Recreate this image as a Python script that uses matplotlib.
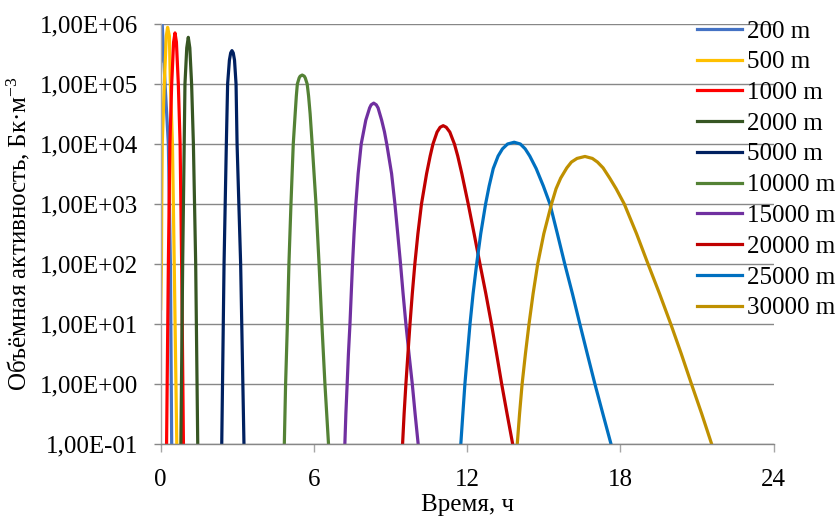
import matplotlib

matplotlib.use("Agg")
import matplotlib.pyplot as plt
from matplotlib.ticker import FixedLocator, FuncFormatter, NullLocator

# values (time in h, activity in Bq/m3)
t_200 = [0.00, 0.06, 0.17, 0.30, 0.38, 0.43]
c_200 = [2.4e5, 9.7e5, 1e5, 1e4, 1e2, 1e-1]

t_500 = [0.00, 0.03, 0.04, 0.06, 0.14, 0.22, 0.27, 0.34, 0.38, 0.46, 0.53, 0.63]
c_500 = [18, 1e2, 1e3, 1e4, 1e5, 6.3e5, 8.8e5, 6.3e5, 1e5, 1e4, 1e2, 1e-1]

t_1000 = [0.23, 0.30, 0.36, 0.43, 0.505, 0.56, 0.615, 0.69, 0.76, 0.82, 0.89]
c_1000 = [1e-1, 1e2, 1e4, 1e5, 5e5, 7.1e5, 5e5, 1e5, 1e4, 1e2, 1e-1]

t_2000 = [0.79, 0.86, 0.92, 0.95, 1.02, 1.08, 1.14, 1.21, 1.28, 1.37, 1.45]
c_2000 = [1e-1, 1e2, 1e4, 1e5, 4e5, 6.0e5, 4e5, 1e5, 1e4, 1e2, 1e-1]

t_5000 = [2.39, 2.48, 2.57, 2.62, 2.69, 2.74, 2.79, 2.84, 2.89, 2.95, 2.99,
          3.13, 3.26]
c_5000 = [1e-1, 1e2, 1e4, 1e5, 2.5e5, 3.3e5, 3.6e5, 3.3e5, 2.5e5, 1e5, 1e4,
          1e2, 1e-1]

t_10000 = [4.84, 4.89, 4.96, 5.02, 5.10, 5.19, 5.265, 5.31, 5.35, 5.42, 5.46,
           5.54, 5.62, 5.66, 5.735, 5.79, 5.85, 5.93, 6.08, 6.20, 6.31, 6.43,
           6.57]
c_10000 = [1e-1, 1e0, 1e1, 1e2, 1e3, 1e4, 3.2e4, 6.3e4, 1e5, 1.26e5, 1.35e5,
           1.41e5, 1.35e5, 1.26e5, 1e5, 6.3e4, 3.2e4, 1e4, 1e3, 1e2, 1e1, 1e0,
           1e-1]

t_15000 = [7.21, 7.25, 7.30, 7.35, 7.41, 7.46, 7.51, 7.57, 7.64, 7.73, 7.85,
           8.03, 8.18, 8.24, 8.34, 8.44, 8.51, 8.65, 8.76, 8.85, 9.04, 9.17,
           9.28, 9.39, 9.49, 9.60, 9.72, 9.85, 9.96, 10.08]
c_15000 = [1e-1, 3.2e-1, 1e0, 3.2e0, 1e1, 3.2e1, 1e2, 3.2e2, 1e3, 3.2e3, 1e4,
           2.5e4, 4.0e4, 4.5e4, 4.8e4, 4.5e4, 4.0e4, 2.5e4, 1.6e4, 1e4, 3.2e3,
           1e3, 3.2e2, 1e2, 3.2e1, 1e1, 3.2e0, 1e0, 3.2e-1, 1e-1]

t_20000 = [9.47, 9.53, 9.60, 9.68, 9.76, 9.85, 9.95, 10.07, 10.21, 10.41,
           10.55, 10.66, 10.82, 10.94, 11.06, 11.18, 11.32, 11.50, 11.63,
           11.79, 12.04, 12.27, 12.50, 12.73, 12.95, 13.15, 13.35, 13.56,
           13.78]
c_20000 = [1e-1, 3.2e-1, 1e0, 3.2e0, 1e1, 3.2e1, 1e2, 3.2e2, 1e3, 3.2e3,
           6.3e3, 1e4, 1.58e4, 1.9e4, 2.02e4, 1.9e4, 1.58e4, 1e4, 6.3e3,
           3.2e3, 1e3, 3.2e2, 1e2, 3.2e1, 1e1, 3.2e0, 1e0, 3.2e-1, 1e-1]

t_25000 = [11.75, 11.83, 11.91, 12.01, 12.11, 12.23, 12.37, 12.53, 12.72,
           12.86, 13.02, 13.21, 13.38, 13.58, 13.84, 14.08, 14.27, 14.45,
           14.70, 14.98, 15.24, 15.53, 15.82, 16.12, 16.41, 16.70, 17.00,
           17.31, 17.63]
c_25000 = [1e-1, 3.2e-1, 1e0, 3.2e0, 1e1, 3.2e1, 1e2, 3.2e2, 1e3,
           2.0e3, 3.9e3, 6.3e3, 8.3e3, 1e4, 1.07e4, 1e4, 8.3e3, 6.3e3,
           3.9e3, 2.0e3, 1e3, 3.2e2, 1e2, 3.2e1, 1e1, 3.2e0, 1e0,
           3.2e-1, 1e-1]

t_30000 = [13.96, 14.05, 14.15, 14.28, 14.42, 14.58, 14.76, 15.00, 15.30,
           15.48, 15.66, 15.90, 16.08, 16.30, 16.61, 16.90, 17.10, 17.32,
           17.58, 17.83, 18.15, 18.63, 19.08, 19.53, 19.97, 20.38, 20.78,
           21.18, 21.57]
c_30000 = [1e-1, 3.2e-1, 1e0, 3.2e0, 1e1, 3.2e1, 1e2, 3.2e2, 1e3,
           1.8e3, 2.7e3, 4.0e3, 5.0e3, 5.75e3, 6.2e3, 5.75e3, 5.0e3, 4.0e3,
           2.7e3, 1.8e3, 1e3, 3.2e2, 1e2, 3.2e1, 1e1, 3.2e0, 1e0,
           3.2e-1, 1e-1]

labels = ["200 m", "500 m", "1000 m", "2000 m", "5000 m", "10000 m",
          "15000 m", "20000 m", "25000 m", "30000 m"]
colors = ["#4472C4", "#FFC000", "#FF0000", "#375623", "#002060", "#548235",
          "#7030A0", "#C00000", "#0070C0", "#BF9000"]
series = [(t_200, c_200), (t_500, c_500), (t_1000, c_1000), (t_2000, c_2000),
          (t_5000, c_5000), (t_10000, c_10000), (t_15000, c_15000),
          (t_20000, c_20000), (t_25000, c_25000), (t_30000, c_30000)]

x_ticks = [0, 6, 12, 18, 24]
y_ticks = [1e-1, 1e0, 1e1, 1e2, 1e3, 1e4, 1e5, 1e6]

plt.rcParams["font.family"] = ["Liberation Serif", "DejaVu Serif"]
plt.rcParams["mathtext.fontset"] = "custom"
plt.rcParams["mathtext.rm"] = "Liberation Serif"
plt.rcParams["mathtext.it"] = "Liberation Serif"

fig = plt.figure(figsize=(8.39, 5.18), dpi=100)
ax = fig.add_axes([160.7 / 839, 1 - 444 / 518, 613 / 839, 420 / 518])

for (t, c), lab, col in zip(series, labels, colors):
    ax.plot(t, c, color=col, linewidth=2.3, label=lab, solid_joinstyle="round")

ax.set_yscale("log")
ax.set_ylim(1e-1, 1e6)
ax.set_xlim(0, 24)
ax.yaxis.set_major_locator(FixedLocator(y_ticks))
ax.yaxis.set_minor_locator(NullLocator())
ax.yaxis.set_major_formatter(FuncFormatter(lambda v, p: ("%.2E" % v).replace(".", ",")))
ax.set_xticks(x_ticks)

ax.yaxis.grid(True, color="#878787", linewidth=1.0)
ax.set_axisbelow(True)
for side in ("top", "right"):
    ax.spines[side].set_visible(False)
ax.spines["left"].set_color("#A6A6A6")
ax.spines["bottom"].set_color("#878787")
ax.spines["left"].set_linewidth(1.0)
ax.spines["bottom"].set_linewidth(1.0)

ax.tick_params(axis="y", direction="out", length=5, width=1, color="#878787",
               pad=11, labelsize=18)
ax.tick_params(axis="x", direction="out", length=6, width=1, color="#A6A6A6",
               pad=12, labelsize=18)

ax.set_xlabel("Время, ч", fontsize=18, labelpad=2)
ax.set_ylabel("Объёмная активность, Бк·м$^{-3}$", fontsize=18, labelpad=6)

ax.legend(loc="upper left", bbox_to_anchor=(697 / 839, 1 - 20 / 518),
          bbox_transform=fig.transFigure, frameon=False, fontsize=18,
          handlelength=1.8, handletextpad=0.2, labelspacing=0.33,
          borderpad=0, borderaxespad=0)

fig.savefig("out.png", dpi=100)
